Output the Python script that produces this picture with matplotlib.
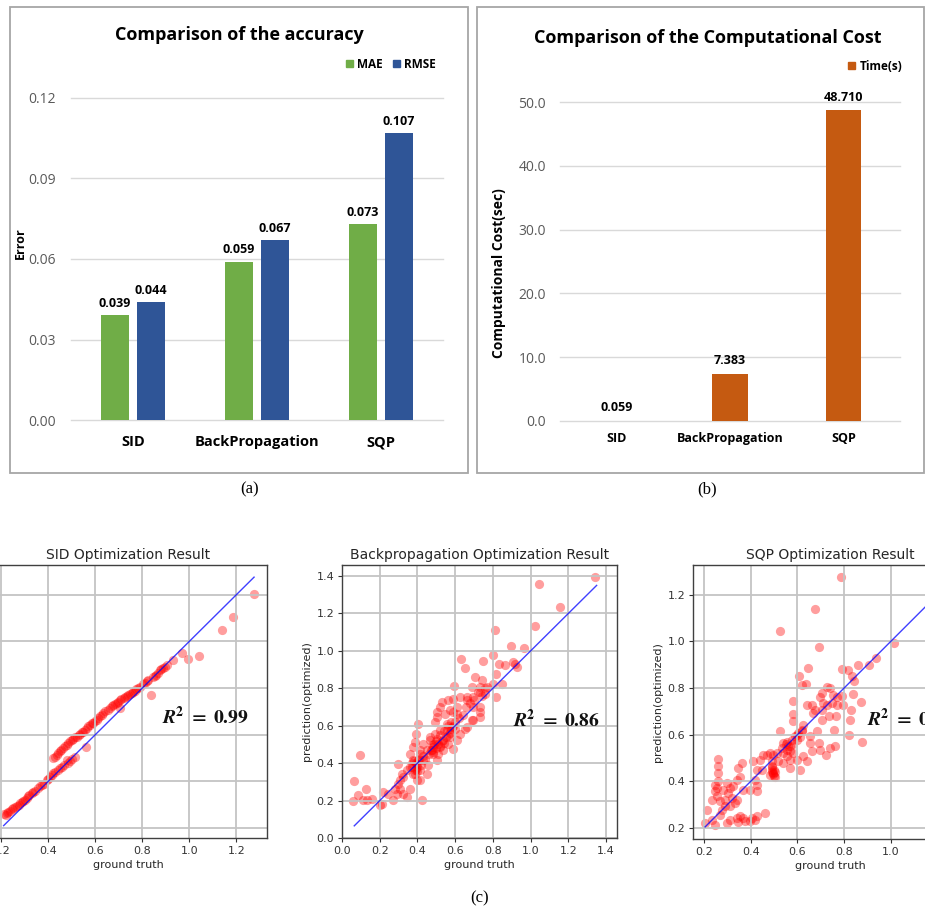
import numpy as np
import matplotlib
matplotlib.use("Agg")
import matplotlib.pyplot as plt
from matplotlib.patches import Rectangle, Patch
from matplotlib.ticker import FormatStrFormatter

# ---------------- bar chart data ----------------
methods = ["SID", "BackPropagation", "SQP"]
mae = [0.039, 0.059, 0.073]
rmse = [0.044, 0.067, 0.107]
time_s = [0.059, 7.383, 48.710]

# ---------------- scatter data: ground truth vs optimized prediction ----------------
sid_truth = [
    1.273, 1.186, 1.140, 1.041, 0.994, 0.970, 0.931, 0.888, 0.874, 0.860,
    0.846, 0.836, 0.818, 0.803, 0.782, 0.768, 0.754, 0.740, 0.726, 0.711,
    0.697, 0.683, 0.669, 0.655, 0.704, 0.634, 0.619, 0.605, 0.591, 0.577,
    0.563, 0.549, 0.534, 0.520, 0.506, 0.492, 0.478, 0.464, 0.450, 0.435,
    0.421, 0.560, 0.513, 0.492, 0.478, 0.457, 0.443, 0.421, 0.407, 0.393,
    0.372, 0.356, 0.336, 0.319, 0.308, 0.294, 0.280, 0.266, 0.251, 0.237,
    0.223, 0.212, 0.218,
    0.430, 0.440, 0.455, 0.470, 0.485, 0.500, 0.515, 0.530, 0.545, 0.556,
    0.570, 0.585, 0.598, 0.612, 0.627, 0.640, 0.662, 0.675, 0.690, 0.705,
    0.720, 0.733, 0.747, 0.760, 0.775, 0.790, 0.810, 0.825, 0.853, 0.867,
    0.880, 0.895, 0.905,
    0.230, 0.245, 0.260, 0.275, 0.290, 0.300, 0.315, 0.330, 0.345, 0.365,
    0.380, 0.400, 0.415, 0.430, 0.450, 0.465, 0.485, 0.500]
sid_pred = [
    1.204, 1.104, 1.050, 0.935, 0.924, 0.950, 0.918, 0.885, 0.875, 0.857,
    0.847, 0.768, 0.828, 0.818, 0.799, 0.789, 0.778, 0.771, 0.761, 0.752,
    0.742, 0.732, 0.721, 0.706, 0.714, 0.692, 0.678, 0.664, 0.652, 0.641,
    0.628, 0.613, 0.603, 0.592, 0.582, 0.571, 0.556, 0.542, 0.528, 0.513,
    0.499, 0.546, 0.506, 0.485, 0.492, 0.463, 0.449, 0.435, 0.420, 0.406,
    0.385, 0.370, 0.356, 0.342, 0.327, 0.317, 0.306, 0.294, 0.284, 0.274,
    0.266, 0.260, 0.255,
    0.505, 0.520, 0.535, 0.550, 0.565, 0.578, 0.588, 0.600, 0.610, 0.620,
    0.636, 0.648, 0.660, 0.670, 0.685, 0.700, 0.714, 0.726, 0.737, 0.748,
    0.758, 0.766, 0.774, 0.783, 0.795, 0.806, 0.822, 0.833, 0.852, 0.866,
    0.880, 0.890, 0.900,
    0.270, 0.280, 0.290, 0.300, 0.312, 0.320, 0.335, 0.350, 0.360, 0.378,
    0.390, 0.410, 0.428, 0.440, 0.455, 0.470, 0.480, 0.495]
sid_fit = [0.21, 1.275]
sid_r2 = 0.99

bp_truth = [
    1.341, 1.046, 1.156, 1.023, 0.813, 0.894, 0.965, 0.631, 0.652, 0.749,
    0.799, 0.834, 0.864, 0.908, 0.919, 0.928, 0.816, 0.846, 0.802, 0.814,
    0.740, 0.705, 0.594, 0.688, 0.732, 0.758, 0.732, 0.767, 0.696, 0.661,
    0.626, 0.590, 0.564, 0.530, 0.661, 0.696, 0.732, 0.732, 0.688, 0.732,
    0.608, 0.502, 0.502, 0.493, 0.608, 0.599, 0.652, 0.581, 0.555, 0.555,
    0.519, 0.493, 0.467, 0.502, 0.537, 0.572, 0.564, 0.519, 0.475, 0.449,
    0.484, 0.511, 0.537, 0.502, 0.414, 0.405, 0.392, 0.387, 0.378, 0.361,
    0.378, 0.369, 0.396, 0.414, 0.387, 0.414, 0.361, 0.343, 0.422, 0.299,
    0.316, 0.299, 0.281, 0.290, 0.269, 0.219, 0.201, 0.210, 0.157, 0.131,
    0.113, 0.125, 0.095, 0.087, 0.060, 0.064, 0.449, 0.458, 0.431, 0.343,
    0.325, 0.590, 0.572, 0.546, 0.519, 0.467, 0.431, 0.590, 0.608, 0.626,
    0.661, 0.696, 0.378, 0.396, 0.361, 0.387, 0.405, 0.414, 0.307, 0.307,
    0.325, 0.246, 0.484, 0.475,
    0.39, 0.40, 0.41, 0.38, 0.40, 0.42, 0.39, 0.37, 0.43, 0.44,
    0.46, 0.47, 0.48, 0.50, 0.51, 0.52, 0.53, 0.54, 0.55, 0.56,
    0.57, 0.58, 0.59, 0.60, 0.50, 0.49, 0.52, 0.54, 0.56, 0.58,
    0.62, 0.64, 0.66, 0.68, 0.70, 0.72, 0.74, 0.76]
bp_pred = [
    1.394, 1.356, 1.235, 1.132, 1.114, 1.025, 1.016, 0.959, 0.911, 0.947,
    0.980, 0.932, 0.923, 0.938, 0.929, 0.914, 0.879, 0.825, 0.825, 0.754,
    0.847, 0.861, 0.811, 0.807, 0.807, 0.772, 0.781, 0.807, 0.754, 0.754,
    0.754, 0.745, 0.736, 0.729, 0.736, 0.700, 0.700, 0.674, 0.629, 0.647,
    0.700, 0.674, 0.647, 0.620, 0.665, 0.620, 0.585, 0.594, 0.611, 0.576,
    0.576, 0.558, 0.540, 0.531, 0.522, 0.540, 0.504, 0.487, 0.496, 0.469,
    0.451, 0.451, 0.469, 0.415, 0.451, 0.611, 0.558, 0.513, 0.487, 0.451,
    0.415, 0.380, 0.398, 0.362, 0.344, 0.308, 0.264, 0.219, 0.201, 0.398,
    0.344, 0.291, 0.264, 0.237, 0.201, 0.246, 0.175, 0.184, 0.210, 0.201,
    0.201, 0.264, 0.442, 0.228, 0.196, 0.305, 0.344, 0.389, 0.415, 0.362,
    0.326, 0.674, 0.683, 0.665, 0.700, 0.522, 0.504, 0.478, 0.522, 0.558,
    0.594, 0.629, 0.344, 0.308, 0.380, 0.362, 0.415, 0.469, 0.264, 0.308,
    0.237, 0.237, 0.487, 0.469,
    0.40, 0.38, 0.42, 0.41, 0.36, 0.39, 0.37, 0.40, 0.44, 0.42,
    0.45, 0.47, 0.46, 0.48, 0.50, 0.49, 0.52, 0.51, 0.54, 0.55,
    0.56, 0.58, 0.60, 0.58, 0.52, 0.50, 0.55, 0.57, 0.60, 0.62,
    0.64, 0.66, 0.70, 0.72, 0.74, 0.78, 0.76, 0.80]
bp_fit = [0.065, 1.35]
bp_r2 = 0.86

sqp_truth = [
    0.786, 0.676, 0.526, 0.691, 1.016, 0.937, 0.909, 0.861, 0.819, 0.790,
    0.836, 0.844, 0.840, 0.871, 0.829, 0.826, 0.821, 0.879, 0.647, 0.609,
    0.619, 0.637, 0.583, 0.583, 0.640, 0.661, 0.697, 0.704, 0.726, 0.740,
    0.754, 0.769, 0.790, 0.747, 0.726, 0.711, 0.769, 0.797, 0.704, 0.676,
    0.666, 0.704, 0.737, 0.766, 0.757, 0.761, 0.740, 0.723, 0.697, 0.691,
    0.683, 0.654, 0.654, 0.661, 0.626, 0.640, 0.611, 0.597, 0.583, 0.569,
    0.554, 0.569, 0.540, 0.519, 0.626, 0.604, 0.619, 0.590, 0.597, 0.576,
    0.554, 0.540, 0.526, 0.583, 0.569, 0.554, 0.533, 0.511, 0.497, 0.483,
    0.469, 0.454, 0.490, 0.490, 0.497, 0.483, 0.504, 0.490, 0.440, 0.411,
    0.426, 0.447, 0.419, 0.426, 0.397, 0.361, 0.347, 0.354, 0.340, 0.369,
    0.326, 0.311, 0.304, 0.319, 0.340, 0.333, 0.311, 0.290, 0.290, 0.276,
    0.261, 0.261, 0.261, 0.261, 0.247, 0.254, 0.247, 0.233, 0.269, 0.254,
    0.297, 0.283, 0.211, 0.204, 0.247, 0.233, 0.269, 0.297, 0.311, 0.340,
    0.354, 0.369, 0.347, 0.376, 0.397, 0.419, 0.426, 0.461, 0.404, 0.426,
    0.490, 0.495, 0.500, 0.490, 0.500, 0.505, 0.560, 0.570, 0.580, 0.600,
    0.610, 0.620, 0.540, 0.550]
sqp_pred = [
    1.276, 1.141, 1.043, 0.976, 0.993, 0.931, 0.900, 0.900, 0.879, 0.881,
    0.850, 0.829, 0.776, 0.740, 0.707, 0.664, 0.597, 0.570, 0.886, 0.853,
    0.814, 0.819, 0.743, 0.690, 0.729, 0.729, 0.764, 0.779, 0.804, 0.800,
    0.771, 0.764, 0.767, 0.736, 0.729, 0.736, 0.729, 0.729, 0.707, 0.707,
    0.693, 0.664, 0.679, 0.681, 0.621, 0.550, 0.543, 0.514, 0.536, 0.564,
    0.614, 0.593, 0.564, 0.529, 0.507, 0.486, 0.450, 0.493, 0.521, 0.493,
    0.507, 0.457, 0.479, 0.486, 0.643, 0.607, 0.614, 0.593, 0.579, 0.579,
    0.571, 0.564, 0.614, 0.657, 0.550, 0.536, 0.543, 0.521, 0.514, 0.521,
    0.514, 0.514, 0.464, 0.450, 0.436, 0.429, 0.421, 0.486, 0.493, 0.486,
    0.450, 0.450, 0.407, 0.386, 0.364, 0.479, 0.457, 0.421, 0.407, 0.364,
    0.379, 0.371, 0.350, 0.329, 0.321, 0.307, 0.293, 0.321, 0.293, 0.279,
    0.400, 0.436, 0.464, 0.496, 0.386, 0.371, 0.357, 0.321, 0.314, 0.336,
    0.393, 0.364, 0.279, 0.221, 0.214, 0.236, 0.257, 0.221, 0.236, 0.243,
    0.250, 0.243, 0.224, 0.229, 0.229, 0.236, 0.250, 0.264, 0.243, 0.357,
    0.440, 0.430, 0.450, 0.460, 0.425, 0.440, 0.550, 0.530, 0.560, 0.600,
    0.590, 0.620, 0.520, 0.560]
sqp_fit = [0.205, 1.27]
sqp_r2 = 0.86

# ---------------- figure helpers (pixel based layout) ----------------
W, H = 925, 911
fig = plt.figure(figsize=(W / 100, H / 100), dpi=100)
fig.patch.set_facecolor("white")
plt.rcParams["mathtext.fontset"] = "stix"

OFFICE = "Open Sans"
GRID = "#d9d9d9"
TICK = "#595959"


def add_axes_px(x0, x1, y0, y1):
    return fig.add_axes([x0 / W, 1 - y1 / H, (x1 - x0) / W, (y1 - y0) / H])


def frame_px(x0, y0, x1, y1):
    fig.add_artist(Rectangle((x0 / W, 1 - y1 / H), (x1 - x0) / W, (y1 - y0) / H,
                             transform=fig.transFigure, fill=False,
                             edgecolor="#a6a6a6", linewidth=1.3))


def text_px(x, y, s, **kw):
    kw.setdefault("ha", "center")
    kw.setdefault("va", "center")
    fig.text(x / W, 1 - y / H, s, **kw)


def office_style(ax, xsize, xpad, ypad):
    for s in ax.spines.values():
        s.set_visible(False)
    ax.set_axisbelow(True)
    ax.grid(axis="y", color=GRID, linewidth=1.0)
    for gl in ax.get_ygridlines():
        gl.set_clip_on(False)
    ax.tick_params(length=0)
    ax.tick_params(axis="y", labelsize=10, labelcolor=TICK, pad=ypad)
    ax.tick_params(axis="x", labelsize=xsize, labelcolor="black", pad=xpad)
    for lab in ax.get_xticklabels():
        lab.set_fontweight("bold")
        lab.set_family(OFFICE)
    for lab in ax.get_yticklabels():
        lab.set_family(OFFICE)


def value_labels(ax, bars, size, offset):
    for r in bars:
        h = r.get_height()
        ax.annotate(f"{h:.3f}", (r.get_x() + r.get_width() / 2, h),
                    xytext=(0, offset), textcoords="offset points",
                    ha="center", va="baseline", fontsize=size,
                    fontweight="bold", family=OFFICE, annotation_clip=False)


# ---------------- (a) accuracy ----------------
frame_px(10, 7, 468, 473)
ax_a = add_axes_px(71, 443, 98, 420)
pos = np.arange(len(methods))
b_mae = ax_a.bar(pos - 0.145, mae, 0.22, color="#70AD47", label="MAE")
b_rmse = ax_a.bar(pos + 0.145, rmse, 0.22, color="#2F5597", label="RMSE")
ax_a.set_xlim(-0.5, 2.5)
ax_a.set_ylim(0, 0.12)
ax_a.set_yticks([0.0, 0.03, 0.06, 0.09, 0.12])
ax_a.yaxis.set_major_formatter(FormatStrFormatter("%.2f"))
ax_a.set_xticks(pos, methods)
office_style(ax_a, 10.5, 11, 11)
value_labels(ax_a, b_mae, 9, 6)
value_labels(ax_a, b_rmse, 9, 6)
text_px(239, 35, "Comparison of the accuracy", fontsize=13, fontweight="bold", family=OFFICE)
text_px(20, 243, "Error", rotation=90, fontsize=9, fontweight="bold", family=OFFICE)
ax_a.legend(handles=[Patch(color="#70AD47", label="MAE"), Patch(color="#2F5597", label="RMSE")],
            loc="center right", bbox_to_anchor=(442 / W, 1 - 64 / H),
            bbox_transform=fig.transFigure, ncol=2, frameon=False,
            handlelength=0.6, handleheight=0.6, handletextpad=0.35, columnspacing=0.9,
            borderpad=0, prop={"family": OFFICE, "weight": "bold", "size": 8.5})
text_px(250, 489, "(a)", fontsize=12, family="Liberation Serif")

# ---------------- (b) computational cost ----------------
frame_px(477, 7, 924, 473)
ax_b = add_axes_px(560, 900, 102, 421)
b_time = ax_b.bar(pos, time_s, 0.31, color="#C55A11", label="Time(s)")
ax_b.set_xlim(-0.5, 2.5)
ax_b.set_ylim(0, 50)
ax_b.set_yticks([0, 10, 20, 30, 40, 50])
ax_b.yaxis.set_major_formatter(FormatStrFormatter("%.1f"))
ax_b.set_xticks(pos, methods)
office_style(ax_b, 9, 8, 10)
value_labels(ax_b, b_time, 9, 7)
text_px(708, 38, "Comparison of the Computational Cost", fontsize=13, fontweight="bold", family=OFFICE)
text_px(499, 273, "Computational Cost(sec)", rotation=90, fontsize=10, fontweight="bold", family=OFFICE)
ax_b.legend(handles=[Patch(color="#C55A11", label="Time(s)")],
            loc="center right", bbox_to_anchor=(908 / W, 1 - 66 / H),
            bbox_transform=fig.transFigure, frameon=False,
            handlelength=0.6, handleheight=0.6, handletextpad=0.35,
            borderpad=0, prop={"family": OFFICE, "weight": "bold", "size": 8.5})
text_px(707, 489, "(b)", fontsize=12, family="Liberation Serif")


# ---------------- (c) optimization results ----------------
def result_panel(rect, truth, pred, fit, r2, title, xlim, ylim, ticks, r2_at):
    ax = add_axes_px(*rect)
    ax.scatter(truth, pred, s=44, color="red", alpha=0.38, linewidths=0)
    ax.plot(fit, fit, color="blue", linewidth=1.0, alpha=0.75)
    ax.set_xlim(xlim)
    ax.set_ylim(ylim)
    ax.set_xticks(ticks)
    ax.set_yticks(ticks)
    ax.grid(True, color="#c4c4c4", linewidth=1.3)
    ax.set_title(title, fontsize=10, color="#262626", pad=4)
    ax.set_xlabel("ground truth", fontsize=8, color="#262626", labelpad=3)
    ax.set_ylabel("prediction(optimized)", fontsize=8, color="#262626", labelpad=3)
    ax.tick_params(labelsize=8, length=3, width=0.8, pad=2.5, colors="#333333")
    for s in ax.spines.values():
        s.set_color("#404040")
        s.set_linewidth(1.0)
    ax.text(r2_at[0], r2_at[1],
            rf"$\boldsymbol{{R}}^{{\mathbf{{2}}}}\ \mathbf{{=}}\ \mathbf{{{r2:.2f}}}$",
            fontsize=14, ha="left", va="center", color="#111111")
    return ax


ticks_02 = [0.2, 0.4, 0.6, 0.8, 1.0, 1.2]
ticks_00 = [0.0, 0.2, 0.4, 0.6, 0.8, 1.0, 1.2, 1.4]
result_panel((-10, 267, 565, 838), sid_truth, sid_pred, sid_fit, sid_r2,
             "SID Optimization Result", (0.152, 1.33), (0.157, 1.327), ticks_02, (0.884, 0.677))
result_panel((342, 617, 565, 838), bp_truth, bp_pred, bp_fit, bp_r2,
             "Backpropagation Optimization Result", (0.0, 1.458), (0.0, 1.459), ticks_00, (0.907, 0.63))
result_panel((693, 967, 565, 839), sqp_truth, sqp_pred, sqp_fit, sqp_r2,
             "SQP Optimization Result", (0.153, 1.327), (0.153, 1.328), ticks_02, (0.899, 0.668))
text_px(480, 898, "(c)", fontsize=12, family="Liberation Serif")

fig.savefig("out.png", dpi=100)
